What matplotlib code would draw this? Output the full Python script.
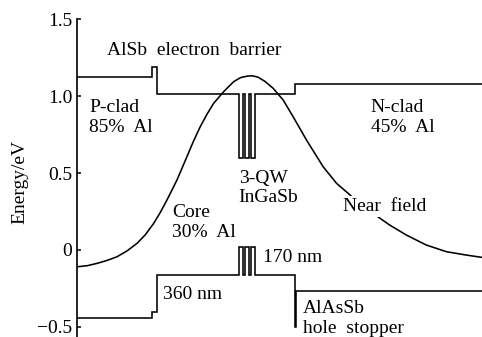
import matplotlib.pyplot as plt

plt.rcParams['font.family'] = ['Liberation Serif', 'DejaVu Serif']

# ── Band profile (position in a.u. across the stack, energy in eV) ────────────
# conduction band: P-clad, AlSb barrier, core with 3 QWs, N-clad
cb_pos = [0, 75.2, 75.2, 80.2, 80.2, 161.5, 161.5, 165.9, 165.9, 167.7, 167.7,
          171.7, 171.7, 173.5, 173.5, 177.5, 177.5, 217.7, 217.7, 405]
cb_e = [1.126, 1.126, 1.19, 1.19, 1.012, 1.012, 0.595, 0.595, 1.012, 1.012, 0.595,
        0.595, 1.012, 1.012, 0.595, 0.595, 1.012, 1.012, 1.079, 1.079]

# valence band: P-clad, core with 3 QWs, AlAsSb hole stopper, N-clad
vb_pos = [0, 75.2, 75.2, 80.2, 80.2, 161.5, 161.5, 165.9, 165.9, 167.7, 167.7,
          171.7, 171.7, 173.5, 173.5, 177.5, 177.5, 217.7, 217.7, 219.3, 219.3, 405]
vb_e = [-0.446, -0.446, -0.403, -0.403, -0.166, -0.166, 0.02, 0.02, -0.166, -0.166, 0.02,
        0.02, -0.166, -0.166, 0.02, 0.02, -0.166, -0.166, -0.50, -0.50, -0.265, -0.265]

# near-field intensity profile (arbitrary scale, drawn on the energy axis)
nf_pos = [0, 10, 19.7, 29.7, 39.7, 49.7, 59.7, 68, 76.4, 83, 89.7, 99.7, 109.7, 116,
          123, 130, 136.4, 146.4, 156.4, 163.5, 170.7, 175.5, 180.7, 188, 196, 206,
          216, 229.4, 246, 259.4, 271, 282.7, 296, 312.7, 329.4, 349.4, 369.4, 389.4, 405]
nf_val = [-0.110, -0.103, -0.088, -0.069, -0.045, -0.007, 0.042, 0.098, 0.172, 0.243,
          0.324, 0.454, 0.606, 0.703, 0.801, 0.885, 0.953, 1.029, 1.094, 1.121, 1.131,
          1.132, 1.124, 1.095, 1.051, 0.975, 0.866, 0.714, 0.541, 0.433, 0.368, 0.300,
          0.237, 0.161, 0.096, 0.031, -0.012, -0.034, -0.049]

Y_TICKS = [1.5, 1.0, 0.5, 0.0, -0.5]
Y_TICKLABELS = ['1.5', '1.0', '0.5', '0', '\u22120.5']

FS = 14
LW = 1.15

fig = plt.figure(figsize=(4.82, 3.37), dpi=100)
ax = fig.add_axes([0.1604, 0.0, 0.8396, 0.9427])

ax.plot(cb_pos, cb_e, color='black', lw=LW, solid_joinstyle='miter')
ax.plot(vb_pos, vb_e, color='black', lw=LW, solid_joinstyle='miter')
ax.plot(nf_pos, nf_val, color='black', lw=LW)

ax.set_xlim(0, 405)
ax.set_ylim(-0.567, 1.5)
for side in ['top', 'right', 'bottom']:
    ax.spines[side].set_visible(False)
ax.spines['left'].set_linewidth(1.2)
ax.set_xticks([])
ax.set_yticks(Y_TICKS)
ax.set_yticklabels(Y_TICKLABELS)
ax.tick_params(axis='y', direction='in', length=3, width=1.1, pad=3.5, labelsize=FS)

fig.text(20 / 482, 1 - 181.5 / 337, 'Energy/eV', rotation=90, ha='center',
         va='center', fontsize=FS)

# labels: (x, baseline energy, text)
labels = [
    (29.4, 1.267, 'AlSb  electron  barrier'),
    (12.0, 0.898, 'P-clad'),
    (12.0, 0.768, '85%  Al'),
    (293.7, 0.898, 'N-clad'),
    (293.7, 0.768, '45%  Al'),
    (161.4, 0.437, '3-QW'),
    (161.4, 0.313, 'InGaSb'),
    (95.0, 0.211, 'Core'),
    (95.0, 0.081, '30%  Al'),
    (186.0, -0.077, '170 nm'),
    (86.0, -0.320, '360 nm'),
    (226.0, -0.413, 'AlAsSb'),
    (226.0, -0.543, 'hole  stopper'),
]
for x, y, s in labels:
    ax.text(x, y, s, fontsize=FS, ha='left', va='baseline')

ax.text(266.0, 0.254, 'Near  field', fontsize=FS, ha='left', va='baseline',
        bbox=dict(facecolor='white', edgecolor='none', pad=1.5))

fig.savefig('out.png', dpi=100)
